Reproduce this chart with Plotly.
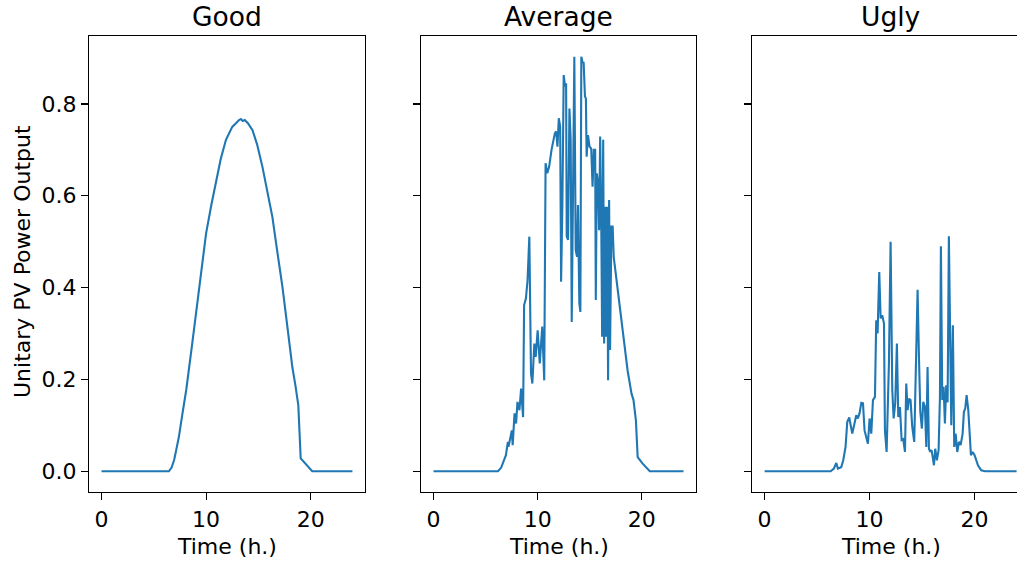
import plotly.graph_objects as go

# ---------------- data ----------------
titles = ["Good", "Average", "Ugly"]
x_label = "Time (h.)"
y_label = "Unitary PV Power Output"
x_ticks = [0, 10, 20]
y_ticks = [0.0, 0.2, 0.4, 0.6, 0.8]

good_t = [0, 6.44, 6.7, 6.95, 7.14, 7.4, 7.7, 8.1, 8.6, 9.05, 9.5, 10.0, 10.5, 10.95,
          11.4, 11.9, 12.2, 12.5, 12.86, 13.0, 13.15, 13.33, 13.5, 13.7, 14.0, 14.44,
          14.9, 15.39, 15.85, 16.34, 16.8, 17.3, 17.8, 18.25, 18.55, 18.82, 19.05,
          19.6, 20.15, 24]
good_v = [0, 0, 0.008, 0.025, 0.046, 0.075, 0.12, 0.177, 0.265, 0.344, 0.43, 0.518,
          0.58, 0.634, 0.68, 0.722, 0.738, 0.75, 0.758, 0.762, 0.765, 0.767, 0.763,
          0.765, 0.758, 0.743, 0.71, 0.663, 0.612, 0.554, 0.48, 0.402, 0.31, 0.227,
          0.186, 0.144, 0.028, 0.014, 0, 0]

avg_t = [0, 6.19, 6.5, 6.73, 6.95, 7.14, 7.2, 7.52, 7.6, 7.78, 7.93, 8.06, 8.25, 8.41,
         8.6, 8.7, 8.87, 9.03, 9.2, 9.36, 9.49, 9.68, 9.81, 10.0, 10.2, 10.44, 10.63,
         10.76, 10.92, 11.1, 11.33, 11.65, 11.78, 11.9, 12.03, 12.16, 12.25, 12.37,
         12.5, 12.63, 12.73, 12.79, 12.92, 13.05, 13.17, 13.27, 13.4, 13.52, 13.65,
         13.78, 13.87, 14.0, 14.1, 14.19, 14.32, 14.41, 14.54, 14.63, 14.7, 14.83,
         14.98, 15.14, 15.27, 15.39, 15.52, 15.58, 15.68, 15.81, 15.9, 16.0, 16.1,
         16.19, 16.29, 16.38, 16.48, 16.57, 16.67, 16.76, 16.86, 16.95, 17.08, 17.2,
         17.3, 18.0, 18.63, 19.01, 19.2, 19.43, 19.6, 20.06, 20.4, 20.76, 24]
avg_v = [0, 0, 0.008, 0.02, 0.035, 0.064, 0.053, 0.089, 0.057, 0.126, 0.104, 0.151,
         0.133, 0.18, 0.118, 0.362, 0.376, 0.416, 0.511, 0.213, 0.191, 0.278, 0.249,
         0.307, 0.235, 0.315, 0.198, 0.671, 0.649, 0.663, 0.70, 0.736, 0.74, 0.707,
         0.769, 0.75, 0.413, 0.576, 0.863, 0.838, 0.845, 0.511, 0.504, 0.79, 0.72,
         0.325, 0.605, 0.903, 0.482, 0.467, 0.58, 0.366, 0.347, 0.903, 0.889, 0.892,
         0.816, 0.812, 0.685, 0.732, 0.707, 0.703, 0.62, 0.70, 0.70, 0.373, 0.649,
         0.627, 0.525, 0.729, 0.554, 0.293, 0.722, 0.278, 0.576, 0.293, 0.576, 0.198,
         0.591, 0.264, 0.533, 0.533, 0.467, 0.336, 0.22, 0.169, 0.155, 0.111, 0.031,
         0.017, 0.008, 0, 0]

ugly_t = [0, 6.29, 6.6, 6.83, 6.98, 7.3, 7.49, 7.71, 7.87, 8.06, 8.35, 8.5, 8.73, 8.88,
          9.04, 9.21, 9.37, 9.52, 9.68, 9.84, 10.0, 10.16, 10.32, 10.51, 10.63, 10.76,
          10.92, 11.05, 11.2, 11.37, 11.46, 11.62, 11.84, 12.0, 12.16, 12.29, 12.44,
          12.6, 12.73, 12.89, 13.05, 13.2, 13.37, 13.49, 13.62, 13.75, 13.9, 14.06,
          14.25, 14.41, 14.57, 14.7, 14.83, 14.98, 15.11, 15.27, 15.4, 15.52, 15.65,
          15.78, 15.9, 16.03, 16.13, 16.25, 16.41, 16.57, 16.7, 16.79, 16.92, 17.05,
          17.17, 17.3, 17.43, 17.55, 17.68, 17.78, 17.93, 18.06, 18.19, 18.35, 18.51,
          18.67, 18.86, 18.98, 19.11, 19.24, 19.4, 19.52, 19.65, 19.81, 20.0, 20.32,
          20.63, 21.0, 24]
ugly_v = [0, 0, 0.006, 0.018, 0.006, 0.009, 0.024, 0.053, 0.107, 0.117, 0.082, 0.097,
          0.122, 0.115, 0.126, 0.149, 0.148, 0.089, 0.071, 0.06, 0.115, 0.082, 0.155,
          0.162, 0.329, 0.30, 0.434, 0.333, 0.34, 0.322, 0.089, 0.042, 0.235, 0.50,
          0.177, 0.115, 0.148, 0.278, 0.118, 0.14, 0.068, 0.07, 0.042, 0.191, 0.133,
          0.158, 0.155, 0.097, 0.064, 0.249, 0.395, 0.249, 0.129, 0.093, 0.151, 0.14,
          0.053, 0.227, 0.049, 0.042, 0.046, 0.028, 0.013, 0.049, 0.024, 0.046, 0.162,
          0.49, 0.155, 0.184, 0.104, 0.187, 0.15, 0.512, 0.191, 0.10, 0.318, 0.053,
          0.082, 0.042, 0.064, 0.057, 0.082, 0.129, 0.137, 0.166, 0.133, 0.089, 0.035,
          0.042, 0.035, 0.013, 0.002, 0, 0]

series = [(good_t, good_v), (avg_t, avg_v), (ugly_t, ugly_v)]

# ---------------- figure ----------------
W, H = 1017, 565
LINE = "#1f77b4"
FONT = "DejaVu Sans"


def px(x):
    return x / W


def py(y):
    return 1 - y / H


x_domains = [[px(89), px(365)], [px(421), px(696)], [px(752), 1.0]]
y_domain = [py(492), py(36)]
x_ranges = [[-1.2, 25.2], [-1.2, 25.2], [-1.2, -1.2 + (1017 - 752) / 10.5]]
y_range = [-0.0452, 0.948]

fig = go.Figure()
for i, (t, v) in enumerate(series):
    sfx = "" if i == 0 else str(i + 1)
    fig.add_trace(go.Scatter(x=t, y=v, mode="lines",
                             line=dict(color=LINE, width=2.1),
                             xaxis="x" + sfx, yaxis="y" + sfx, showlegend=False,
                             hoverinfo="skip"))

layout = dict(
    width=W, height=H,
    margin=dict(l=0, r=0, t=0, b=0),
    paper_bgcolor="white", plot_bgcolor="white",
    font=dict(family=FONT, size=22, color="black"),
    showlegend=False,
)
annotations = []
for i in range(3):
    sfx = "" if i == 0 else str(i + 1)
    layout["xaxis" + sfx] = dict(
        domain=x_domains[i], range=x_ranges[i], anchor="y" + sfx,
        tickvals=x_ticks, ticks="outside", ticklen=7, tickwidth=1.1,
        tickcolor="black", showline=True, linecolor="black", linewidth=1.1,
        mirror=True, showgrid=False, zeroline=False,
        tickfont=dict(family=FONT, size=22, color="black"),
    )
    layout["yaxis" + sfx] = dict(
        domain=y_domain, range=y_range, anchor="x" + sfx,
        tickvals=y_ticks, tickformat=".1f", ticks="outside", ticklen=7,
        tickwidth=1.1, tickcolor="black", showline=True, linecolor="black",
        linewidth=1.1, mirror=(i < 2), showgrid=False, zeroline=False,
        showticklabels=(i == 0),
        tickfont=dict(family=FONT, size=22, color="black"),
    )
    annotations.append(dict(text=titles[i], xref="x" + sfx, yref="paper",
                            x=12, y=py(17), xanchor="center", yanchor="middle",
                            showarrow=False, font=dict(family=FONT, size=26.5, color="black")))
    annotations.append(dict(text=x_label, xref="x" + sfx, yref="paper",
                            x=12, y=py(546), xanchor="center", yanchor="middle",
                            showarrow=False, font=dict(family=FONT, size=22, color="black")))

annotations.append(dict(text=y_label, xref="paper", yref="paper",
                        x=px(22), y=py(262), xanchor="center", yanchor="middle",
                        textangle=-90, showarrow=False,
                        font=dict(family=FONT, size=22, color="black")))
layout["annotations"] = annotations
fig.update_layout(**layout)

# remove the default 8px page margin so the figure fills the window exactly
fig.write_html("out.html",
               config={"displayModeBar": False, "staticPlot": True},
               post_script="document.body.style.margin='0px';"
                           "document.body.style.overflow='hidden';")
